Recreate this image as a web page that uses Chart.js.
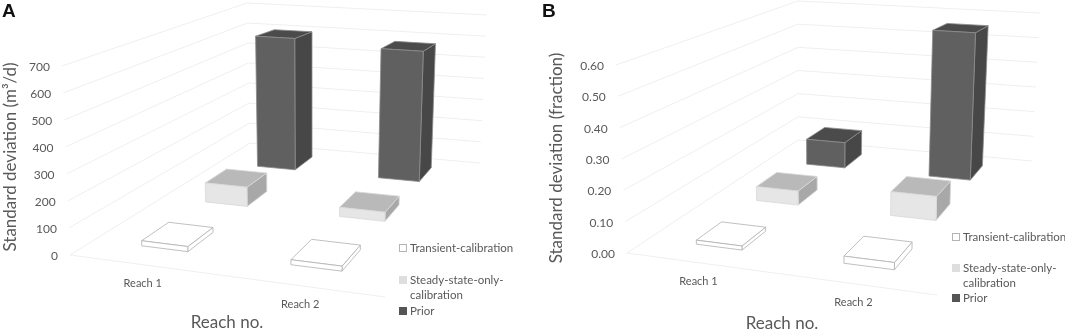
<!DOCTYPE html>
<html>
<head>
<meta charset="utf-8">
<script src="https://cdn.jsdelivr.net/npm/chart.js@4/dist/chart.umd.min.js"></script>
<style>
body { margin: 0; background: #fff; }
canvas { position: absolute; top: 0; }
</style>
</head>
<body>
<canvas id="panelA" width="532" height="331" style="left:0"></canvas>
<canvas id="panelB" width="533" height="331" style="left:532px"></canvas>
<script>
const reaches = ["Reach 1", "Reach 2"];
const seriesNames = ["Transient-calibration", "Steady-state-only-calibration", "Prior"];

const transientA = [19, 18];
const steadyA = [78, 36];
const priorA = [595, 572];
const ticksMaxA = 700;

const transientB = [0.013, 0.022];
const steadyB = [0.049, 0.081];
const priorB = [0.098, 0.555];
const ticksMaxB = 0.6;

// one colour set per series: front, top, side, edge
const estilos = [
    { frente: "#ffffff", arriba: "#ffffff", lado: "#ffffff", borde: "#b0b0b0" },
    { frente: "#e6e6e6", arriba: "#b9b9b9", lado: "#a8a8a8", borde: "#d8d8d8" },
    { frente: "#606060", arriba: "#4b4b4b", lado: "#474747", borde: "#8c8c8c" }
];
// front and back of each series along the depth of the floor
const profundidad = [[0.10, 0.23], [0.43, 0.56], [0.77, 0.91]];

function crearHomografia(p00, p10, p11, p01) {
    let dx1 = p10[0] - p11[0], dx2 = p01[0] - p11[0], sx = p00[0] - p10[0] + p11[0] - p01[0];
    let dy1 = p10[1] - p11[1], dy2 = p01[1] - p11[1], sy = p00[1] - p10[1] + p11[1] - p01[1];
    let den = dx1 * dy2 - dx2 * dy1;
    let g = (sx * dy2 - dx2 * sy) / den;
    let h = (dx1 * sy - sx * dy1) / den;
    return function (u, d) {
        let w = 1 + g * u + h * d;
        return [
            (p00[0] + (p10[0] * (1 + g) - p00[0]) * u + (p01[0] * (1 + h) - p00[0]) * d) / w,
            (p00[1] + (p10[1] * (1 + g) - p00[1]) * u + (p01[1] * (1 + h) - p00[1]) * d) / w
        ];
    };
}

function poligono(ctx, puntos, relleno, borde) {
    ctx.beginPath();
    ctx.moveTo(puntos[0][0], puntos[0][1]);
    for (let i = 1; i < puntos.length; i++) {
        ctx.lineTo(puntos[i][0], puntos[i][1]);
    }
    ctx.closePath();
    ctx.fillStyle = relleno;
    ctx.fill();
    ctx.lineWidth = 0.8;
    ctx.strokeStyle = borde;
    ctx.stroke();
}

function texto(ctx, cadena, x, y, fuente, color, alinear) {
    ctx.font = fuente;
    ctx.fillStyle = color;
    ctx.textAlign = alinear || "left";
    ctx.textBaseline = "middle";
    ctx.fillText(cadena, x, y);
}

function crearPanel(canvasId, cfg) {
    let suelo = crearHomografia(cfg.suelo[0], cfg.suelo[1], cfg.suelo[2], cfg.suelo[3]);
    let alto = cfg.alto;

    // u, d on the floor; t is the fraction of the y axis
    function punto(u, d, t) {
        let a = suelo(u, d);
        let pesos = [(1 - u) * (1 - d), u * (1 - d), u * d, (1 - u) * d];
        let ox = 0, oy = 0;
        for (let i = 0; i < 4; i++) {
            ox = ox + pesos[i] * alto[i][0];
            oy = oy + pesos[i] * alto[i][1];
        }
        return [a[0] + ox * t, a[1] + oy * t];
    }

    let plugin3d = {
        id: "plugin3d",
        beforeDatasetsDraw(chart) {
            let ctx = chart.ctx;
            let area = chart.chartArea;
            let y = chart.scales.y;
            let x = chart.scales.x;

            // wall grid lines
            ctx.save();
            ctx.strokeStyle = "#efefef";
            ctx.lineWidth = 1;
            y.ticks.forEach(function (tick) {
                let t = (area.bottom - y.getPixelForValue(tick.value)) / (area.bottom - area.top);
                let p0 = punto(0, 0, t), p1 = punto(0, 1, t), p2 = punto(1, 1, t);
                ctx.beginPath();
                ctx.moveTo(p0[0], p0[1]);
                ctx.lineTo(p1[0], p1[1]);
                ctx.lineTo(p2[0], p2[1]);
                ctx.stroke();
                texto(ctx, cfg.etiqueta(tick.value), p0[0] - 12, p0[1] + 1, "12px Lato", "#595959", "right");
            });
            let f0 = punto(0, 0, 0), f1 = punto(1, 0, 0);
            ctx.beginPath();
            ctx.moveTo(f0[0], f0[1]);
            ctx.lineTo(f1[0], f1[1]);
            ctx.stroke();

            reaches.forEach(function (nombre, i) {
                let px = x.getPixelForValue(i);
                let py = f0[1] + (f1[1] - f0[1]) * (px - f0[0]) / (f1[0] - f0[0]);
                texto(ctx, nombre, px - 6, py + 18, "11px Lato", "#595959", "center");
            });
            ctx.restore();
        },
        afterDatasetsDraw(chart) {
            let ctx = chart.ctx;
            let area = chart.chartArea;
            let ancho = area.right - area.left;
            ctx.save();
            // back to front so nearer bars cover the far ones
            for (let s = chart.data.datasets.length - 1; s >= 0; s--) {
                let meta = chart.getDatasetMeta(s);
                let est = estilos[s];
                meta.data.forEach(function (barra) {
                    let u0 = (barra.x - barra.width / 2 - area.left) / ancho;
                    let u1 = (barra.x + barra.width / 2 - area.left) / ancho;
                    let t = (area.bottom - barra.y) / (area.bottom - area.top);
                    let d0 = profundidad[s][0], d1 = profundidad[s][1];
                    let fa = punto(u0, d0, 0), fb = punto(u1, d0, 0), fc = punto(u1, d0, t), fd = punto(u0, d0, t);
                    let la = punto(u1, d1, 0), lb = punto(u1, d1, t), tb = punto(u0, d1, t);
                    poligono(ctx, [fb, la, lb, fc], est.lado, est.borde);
                    poligono(ctx, [fd, fc, lb, tb], est.arriba, est.borde);
                    poligono(ctx, [fa, fb, fc, fd], est.frente, est.borde);
                });
            }
            ctx.restore();
        },
        afterDraw(chart) {
            let ctx = chart.ctx;
            ctx.save();
            texto(ctx, cfg.letra, cfg.letraX, 12, "bold 19px 'Liberation Sans'", "#111111");
            texto(ctx, "Reach no.", cfg.tituloX[0], cfg.tituloX[1], "17px Lato", "#595959", "center");

            ctx.translate(cfg.tituloY[0], cfg.tituloY[1]);
            ctx.rotate(-Math.PI / 2);
            texto(ctx, cfg.tituloY[2], 0, 0, "17px Lato", "#595959", "center");
            ctx.rotate(Math.PI / 2);
            ctx.translate(-cfg.tituloY[0], -cfg.tituloY[1]);

            // legend
            let ley = cfg.leyenda;
            ctx.lineWidth = 1;
            ctx.fillStyle = "#ffffff";
            ctx.strokeStyle = "#b4b4b4";
            ctx.fillRect(ley.x, ley.y[0] - 4, 8, 8);
            ctx.strokeRect(ley.x + 0.5, ley.y[0] - 3.5, 7, 7);
            ctx.fillStyle = "#dedede";
            ctx.fillRect(ley.x, ley.y[1] - 4, 8, 8);
            ctx.fillStyle = "#555555";
            ctx.fillRect(ley.x, ley.y[3] - 4, 8, 8);
            let fuente = "11.5px Lato";
            texto(ctx, seriesNames[0], ley.x + 11, ley.y[0], fuente, "#595959");
            texto(ctx, "Steady-state-only-", ley.x + 11, ley.y[1], fuente, "#595959");
            texto(ctx, "calibration", ley.x + 11, ley.y[2], fuente, "#595959");
            texto(ctx, seriesNames[2], ley.x + 11, ley.y[3], fuente, "#595959");
            ctx.restore();
        }
    };

    let datasets = [];
    for (let s = 0; s < seriesNames.length; s++) {
        datasets.push({
            label: seriesNames[s],
            data: cfg.series[s],
            backgroundColor: "rgba(0,0,0,0)",
            grouped: false,
            barPercentage: 0.32,
            categoryPercentage: 1
        });
    }

    return new Chart(document.getElementById(canvasId), {
        type: "bar",
        data: { labels: reaches, datasets: datasets },
        options: {
            responsive: false,
            animation: false,
            layout: {
                padding: {
                    left: cfg.suelo[0][0],
                    right: document.getElementById(canvasId).width - cfg.suelo[1][0],
                    top: cfg.suelo[0][1] + cfg.alto[0][1],
                    bottom: 331 - cfg.suelo[0][1]
                }
            },
            plugins: { legend: { display: false }, tooltip: { enabled: false } },
            scales: {
                x: { display: false },
                y: { display: false, min: 0, max: cfg.max, ticks: { stepSize: cfg.paso } }
            }
        },
        plugins: [plugin3d]
    });
}

crearPanel("panelA", {
    letra: "A",
    letraX: 2,
    series: [transientA, steadyA, priorA],
    max: ticksMaxA,
    paso: 100,
    etiqueta: function (v) { return String(v); },
    suelo: [[70, 255], [385, 297], [480, 163], [250, 143]],
    alto: [[-8, -189], [6, -205], [7, -148], [-3, -140]],
    tituloX: [227, 323],
    tituloY: [11, 157, "Standard deviation (m\u00B3/d)"],
    leyenda: { x: 399, y: [248, 280, 295, 311] }
});

crearPanel("panelB", {
    letra: "B",
    letraX: 10,
    series: [transientB, steadyB, priorB],
    max: ticksMaxB,
    paso: 0.1,
    etiqueta: function (v) { return v.toFixed(2); },
    suelo: [[95, 253], [405, 295], [500, 161], [266, 140]],
    alto: [[-11, -188], [5, -205], [8, -148], [0, -139]],
    tituloX: [250, 324],
    tituloY: [25, 158, "Standard deviation (fraction)"],
    leyenda: { x: 420, y: [237, 268, 283, 298] }
});
</script>
</body>
</html>
